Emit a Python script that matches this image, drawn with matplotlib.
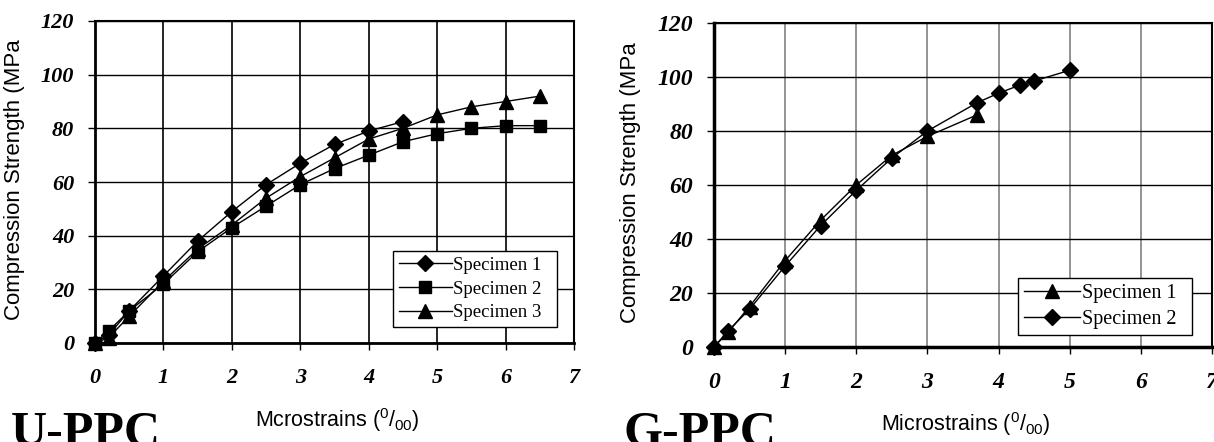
import matplotlib
matplotlib.use("Agg")
import matplotlib.pyplot as plt

# U-PPC data (microstrains, MPa)
u_x1 = [0, 0.2, 0.5, 1, 1.5, 2, 2.5, 3, 3.5, 4, 4.5]
u_y1 = [0, 3, 12, 25, 38, 49, 59, 67, 74, 79, 82.5]
u_x2 = [0, 0.2, 0.5, 1, 1.5, 2, 2.5, 3, 3.5, 4, 4.5, 5, 5.5, 6, 6.5]
u_y2 = [0, 4.5, 12, 22, 34, 43, 51, 59, 65, 70, 75, 78, 80, 81, 81]
u_x3 = [0, 0.2, 0.5, 1, 1.5, 2, 2.5, 3, 3.5, 4, 4.5, 5, 5.5, 6, 6.5]
u_y3 = [0, 2, 10, 23, 35, 44, 54, 62, 69, 76, 80, 85, 88, 90, 92]

# G-PPC data
g_x1 = [0, 0.2, 0.5, 1, 1.5, 2, 2.5, 3, 3.7]
g_y1 = [0, 5.5, 15, 32, 47, 60, 71, 78, 86]
g_x2 = [0, 0.2, 0.5, 1, 1.5, 2, 2.5, 3, 3.7, 4, 4.3, 4.5, 5]
g_y2 = [0, 6, 14, 30, 45, 58, 70, 80, 90.5, 94, 97, 98.5, 102.5]

xticks = [0, 1, 2, 3, 4, 5, 6, 7]
yticks = [0, 20, 40, 60, 80, 100, 120]

SERIF = "Liberation Serif"
SANS = "Liberation Sans"

fig = plt.figure(figsize=(12.14, 4.42), dpi=100)
ax1 = fig.add_axes([95 / 1214, 1 - 343 / 442, 479 / 1214, 322 / 442])
ax2 = fig.add_axes([714 / 1214, 1 - 347 / 442, 498 / 1214, 324 / 442])


def style_axes(ax, vgrid_color, spine_w, label, tick_fs):
    ax.set_xlim(0, 7)
    ax.set_ylim(0, 120)
    ax.set_xticks(xticks)
    ax.set_yticks(yticks)
    ax.set_xticklabels([str(t) for t in xticks], fontfamily=SERIF,
                       fontweight="bold", fontstyle="italic", fontsize=tick_fs)
    ax.set_yticklabels([str(t) for t in yticks], fontfamily=SERIF,
                       fontweight="bold", fontstyle="italic", fontsize=tick_fs)
    ax.tick_params(axis="x", direction="out", length=5, width=1, pad=13)
    ax.tick_params(axis="y", direction="out", length=5, width=1, pad=10)
    ax.xaxis.grid(True, color=vgrid_color, linewidth=1.2)
    ax.yaxis.grid(True, color="black", linewidth=1.0)
    ax.set_axisbelow(True)
    for s in ax.spines.values():
        s.set_linewidth(1.5)
    ax.spines["left"].set_linewidth(spine_w)
    ax.spines["bottom"].set_linewidth(spine_w)
    ax.set_ylabel("Compression Strength (MPa", fontfamily=SANS, fontsize=16)
    ax.yaxis.set_label_coords(-0.146, 0.508)
    ax.set_xlabel(label + r" ($^{\mathregular{0}}$/$_{\mathregular{00}}$)",
                  fontfamily=SANS, fontsize=15.5)
    ax.xaxis.set_label_coords(0.505, -0.195)


ax1.plot(u_x1, u_y1, marker="D", label="Specimen 1", markersize=8,
         color="black", linewidth=1.0, clip_on=False)
ax1.plot(u_x2, u_y2, marker="s", label="Specimen 2", markersize=9,
         color="black", linewidth=1.0, clip_on=False)
ax1.plot(u_x3, u_y3, marker="^", label="Specimen 3", markersize=10,
         color="black", linewidth=1.0, clip_on=False)
style_axes(ax1, "black", 2.0, "Mcrostrains", 16)

ax2.plot(g_x1, g_y1, marker="^", label="Specimen 1", markersize=10,
         color="black", linewidth=1.0, clip_on=False)
ax2.plot(g_x2, g_y2, marker="D", label="Specimen 2", markersize=8,
         color="black", linewidth=1.0, clip_on=False)
style_axes(ax2, "#808080", 2.5, "Microstrains", 17)

for ax, box, fs in ((ax1, (0.623, 0.05, 0.342, 0.267), 13.5),
                    (ax2, (0.610, 0.037, 0.350, 0.191), 14.5)):
    leg = ax.legend(loc="lower left", bbox_to_anchor=box, mode="expand",
                    prop={"family": SERIF, "size": fs}, handlelength=2.8,
                    handletextpad=0.1, borderaxespad=0, fancybox=False,
                    framealpha=1, edgecolor="black", borderpad=0.3,
                    labelspacing=0.35)
    leg.get_frame().set_linewidth(1.0)

fig.text(11 / 1214, 1 - 445 / 442, "U-PPC", fontfamily=SERIF, fontweight="bold",
         fontsize=36, va="baseline", ha="left")
fig.text(623 / 1214, 1 - 445 / 442, "G-PPC", fontfamily=SERIF, fontweight="bold",
         fontsize=36, va="baseline", ha="left")

fig.savefig("out.png", dpi=100)
